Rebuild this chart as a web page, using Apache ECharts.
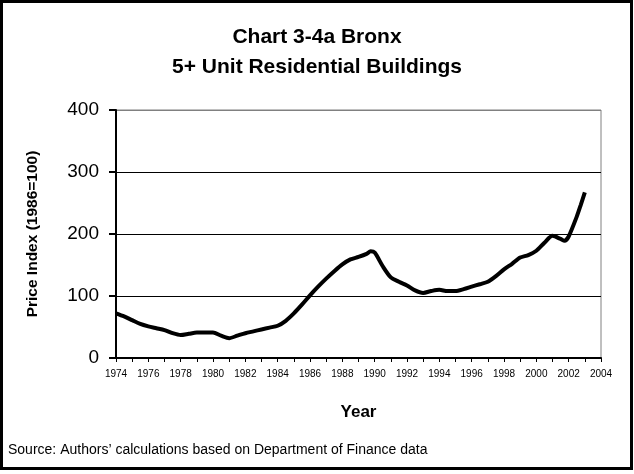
<!DOCTYPE html>
<html>
<head>
<meta charset="utf-8">
<script src="https://cdn.jsdelivr.net/npm/echarts@6/dist/echarts.min.js"></script>
<style>
  html, body { margin: 0; padding: 0; background: #fff; }
  #chart { width: 634px; height: 474px; }
</style>
</head>
<body>
<div id="chart"></div>
<script>
// price index (half-year steps)
const years = [
  1974, 1974.5, 1975, 1975.5, 1976, 1976.5, 1977, 1977.5, 1978, 1978.5,
  1979, 1979.5, 1980, 1980.5, 1981, 1981.5, 1982, 1982.5, 1983, 1983.5,
  1984, 1984.5, 1985, 1985.5, 1986, 1986.5, 1987, 1987.5, 1988, 1988.5,
  1989, 1989.5, 1989.75, 1990, 1990.5, 1991, 1991.5, 1992, 1992.5, 1993,
  1993.5, 1994, 1994.5, 1995, 1995.5, 1996, 1996.5, 1997, 1997.5, 1998,
  1998.5, 1999, 1999.5, 2000, 2000.5, 2001, 2001.5, 2001.75, 2002, 2002.5,
  2002.75, 2003
];
const priceIndex = [
  72, 67, 61, 55, 51, 48, 45, 40, 37, 39,
  41, 41, 41, 36, 32, 36, 40, 43, 46, 49,
  52, 60, 72, 86, 101, 115, 128, 140, 151, 159,
  163, 168, 172, 170, 148, 130, 123, 117, 109, 105,
  108, 110, 108, 108, 111, 115, 119, 123, 132, 143,
  152, 162, 166, 173, 186, 197, 192, 189, 196, 228,
  247, 267
];
const yTicks = [0, 100, 200, 300, 400];

const font = 'Arial, "Liberation Sans", sans-serif';

let option = {
    animation: false,
    backgroundColor: '#fff',
    title: {
        text: 'Chart 3-4a Bronx\n5+ Unit Residential Buildings',
        left: 'center',
        top: 17,
        textStyle: {
            fontFamily: font,
            fontSize: 21,
            fontWeight: 'bold',
            color: '#000',
            lineHeight: 30,
        }
    },
    grid: {
        left: 116,
        right: 33,
        top: 110,
        bottom: 116,
        show: true,
        borderColor: '#808080',
        borderWidth: 1,
    },
    xAxis: {
        type: 'value',
        min: 1974,
        max: 2004,
        interval: 1,
        name: 'Year',
        nameLocation: 'middle',
        nameGap: 46,
        nameTextStyle: { fontFamily: font, fontSize: 17, fontWeight: 'bold', color: '#000' },
        axisLine: { lineStyle: { color: '#000', width: 2 } },
        axisTick: { length: 4, lineStyle: { color: '#000', width: 1 } },
        axisLabel: {
            margin: 11,
            fontFamily: font,
            fontSize: 10,
            color: '#000',
            formatter: v => (v % 2 === 0 ? String(v) : ''),
        },
        splitLine: { show: false },
    },
    yAxis: {
        type: 'value',
        min: yTicks[0],
        max: yTicks[yTicks.length - 1],
        interval: 100,
        name: 'Price Index (1986=100)',
        nameLocation: 'middle',
        nameGap: 75,
        nameTextStyle: { fontFamily: font, fontSize: 15.5, fontWeight: 'bold', color: '#000' },
        axisLine: { show: true, lineStyle: { color: '#000', width: 2 } },
        axisTick: { show: true, length: 7, lineStyle: { color: '#000', width: 2 } },
        axisLabel: { margin: 17, fontFamily: font, fontSize: 19, color: '#000' },
        splitLine: {
            show: true,
            lineStyle: { color: ['#000', '#000', '#000', '#000', '#808080'], width: 1 }
        },
    },
    series: [{
        type: 'line',
        data: years.map((y, i) => [y, priceIndex[i]]),
        symbol: 'none',
        smooth: 0.25,
        lineStyle: { color: '#000', width: 4 },
    }],
    graphic: [
        {
            type: 'rect',
            shape: { x: 1.5, y: 1.5, width: 630, height: 467 },
            style: { fill: null, stroke: '#000', lineWidth: 3 },
        },
        {
            type: 'text',
            left: 8,
            top: 443,
            style: {
                text: 'Source: Authors\u2019 calculations based on Department of Finance data',
                font: '14px ' + font,
                fill: '#000',
            }
        }
    ]
};

let chart = echarts.init(document.getElementById('chart'));
chart.setOption(option);
</script>
</body>
</html>
